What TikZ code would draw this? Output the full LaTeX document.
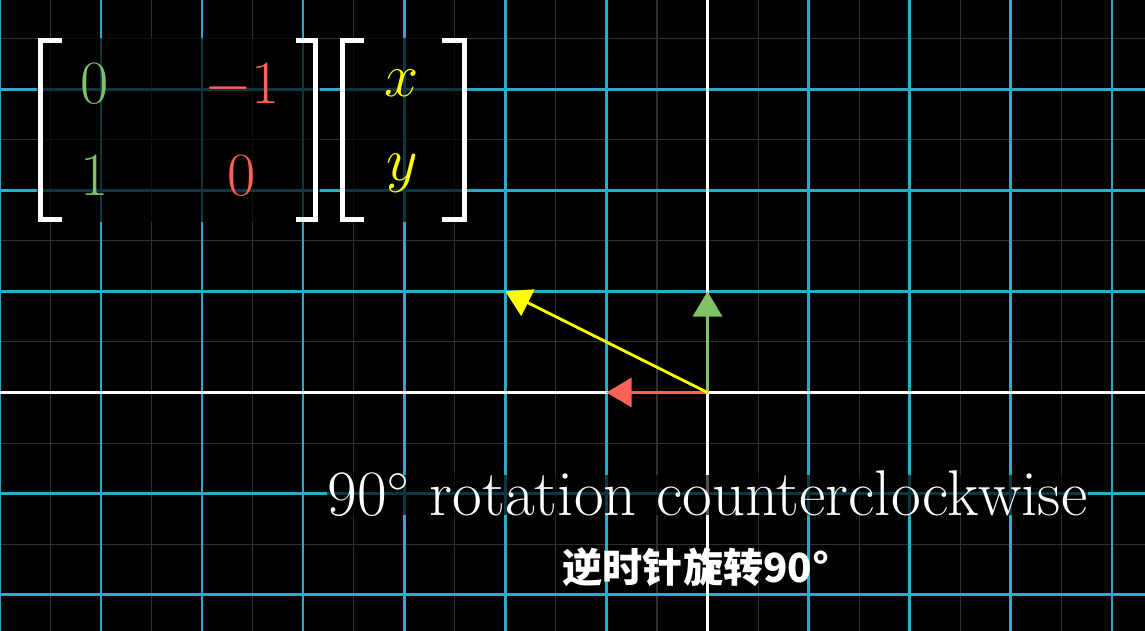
\documentclass[tikz,border=0pt]{standalone}
\usepackage{fontspec}
\newfontfamily\cjk{Noto Sans CJK SC}
\usetikzlibrary{arrows.meta}
\definecolor{gridblue}{HTML}{29ABCA}
\definecolor{faintgray}{RGB}{48,48,48}
\definecolor{mgreen}{HTML}{83C167}
\definecolor{mred}{HTML}{FC6255}
\definecolor{myellow}{HTML}{FFFF00}
\tikzset{
  faintline/.style={draw=faintgray, line width=0.3pt},
  blueline/.style={draw=gridblue, line width=0.78pt},
  axisline/.style={draw=white, line width=0.85pt},
  dimbg/.style={fill=black, fill opacity=0.68},
  bracketline/.style={draw=white, line width=1.41pt, line join=miter},
  entry/.style={anchor=base, inner sep=0pt, font=\fontsize{17.28}{20}\selectfont},
  vec/.style={line width=0.8pt, -{Triangle[length=0.25cm, width=0.29cm]}},
}
\begin{document}
\begin{tikzpicture}[x=1cm,y=1cm]
\useasboundingbox (-6.998,-2.359) rectangle (4.327,3.882);
\fill[black] (-6.998,-2.359) rectangle (4.327,3.882);
\begin{scope}
  \clip (-6.998,-2.359) rectangle (4.327,3.882);
  \draw[faintline] (-7.5,-2.5) grid[step=0.5] (4.5,4);
  \draw[blueline] (-7,-3) grid (5,4);
  \draw[axisline] (-7.5,0) -- (4.5,0);
  \draw[axisline] (0,-2.5) -- (0,4);
\end{scope}

% background panels
\fill[dimbg] (-6.632,1.686) rectangle (-3.833,3.506);
\fill[dimbg] (-3.640,1.686) rectangle (-2.379,3.506);
\fill[dimbg] (-3.764,-1.212) rectangle (3.764,-0.816);

% brackets
\draw[bracketline] (-6.385,3.482) -- (-6.597,3.482) -- (-6.597,1.711) -- (-6.385,1.711);
\draw[bracketline] (-4.070,3.482) -- (-3.877,3.482) -- (-3.877,1.711) -- (-4.070,1.711);
\draw[bracketline] (-3.398,3.482) -- (-3.610,3.482) -- (-3.610,1.711) -- (-3.398,1.711);
\draw[bracketline] (-2.627,3.482) -- (-2.404,3.482) -- (-2.404,1.711) -- (-2.627,1.711);

% matrix entries
\node[entry, text=mgreen] (a11) at (-6.067,2.854) {$0$};
\node[entry, text=mred]   (a12) at (-4.604,2.854) {$-1$};
\node[entry, text=mgreen] (a21) at (-6.067,1.949) {$1$};
\node[entry, text=mred]   (a22) at (-4.604,1.949) {$0$};
\node[entry, text=myellow] (vx) at (-3.022,2.923) {$x$};
\node[entry, text=myellow] (vy) at (-3.022,2.092) {$y$};

% vectors
\coordinate (O) at (0,0);
\coordinate (ihat) at (-1,0);
\coordinate (jhat) at (0,1);
\coordinate (v) at (-2,1);
\draw[vec, draw=mred, fill=mred] (O) -- (ihat);
\draw[vec, draw=mgreen, fill=mgreen] (O) -- (jhat);
\draw[vec, draw=myellow, fill=myellow] (O) -- (v);

% labels
\node[anchor=base, inner sep=0pt, text=white, font=\fontsize{18.2}{21}\selectfont] (title) at (0,-1.212) {90$^\circ$ rotation counterclockwise};
\node[inner sep=0pt, text=white, font=\cjk\bfseries\fontsize{11.3}{13}\selectfont] (sub) at (-0.114,-1.726) {逆时针旋转90°};
\end{tikzpicture}
\end{document}
